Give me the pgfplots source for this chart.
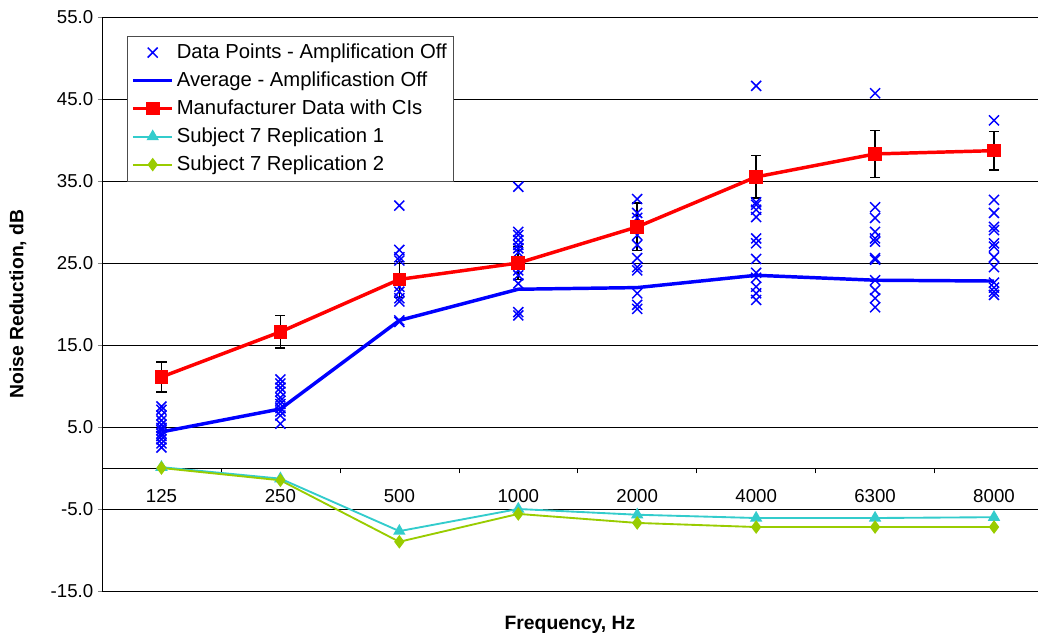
\documentclass[border=0pt]{standalone}
\usepackage{fontspec}
\setmainfont{Liberation Sans}
\usepackage{pgfplots}
\pgfplotsset{compat=1.18}
\definecolor{cyanS}{RGB}{51,204,204}
\definecolor{greenS}{RGB}{153,204,0}
\begin{document}
\begin{tikzpicture}
\begin{axis}[
    name=ax,
    scale only axis,
    width=702pt, height=430.5pt,
    xmin=-0.5, xmax=7.37,
    ymin=-15, ymax=55,
    axis x line*=middle,
    axis y line*=left,
    xtick={0,...,7},
    xticklabels={125,250,500,1000,2000,4000,6300,8000},
    major x tick style={draw=none},
    minor xtick={0.5,1.5,...,6.5},
    minor x tick style={black, thin},
    minor tick length=4pt,
    tick align=outside,
    ytick={-15,-5,...,55},
    major tick length=3pt,
    ymajorgrids,
    grid style={black, thin},
    axis line style={black, thin},
    yticklabel style={/pgf/number format/.cd, fixed, fixed zerofill, precision=1, assume math mode=true},
    ticklabel style={font=\fontsize{14}{16}\selectfont},
    xticklabel style={yshift=-9.5pt},
    xlabel={\textbf{Frequency, Hz}},
    ylabel={\textbf{Noise Reduction, dB}},
    label style={font=\fontsize{14.5}{16}\selectfont},
    xlabel style={at={(axis description cs:0.5,0)}, anchor=center, yshift=-25.5pt},
    ylabel style={at={(axis description cs:-0.0898,0.5)}, anchor=center},
    legend style={at={(axis description cs:0.0267,0.967)}, anchor=north west,
        font=\fontsize{15.2}{17}\selectfont, draw=black!70, fill=white,
        row sep=4.5pt, inner xsep=3pt, inner ysep=4pt},
    legend cell align=left,
    legend image code/.code={\draw[mark repeat=2,mark phase=2,#1]
        plot coordinates {(0cm,0cm) (0.52cm,0cm) (1.04cm,0cm)};},
    clip=false,
]
% individual data points, amplification off
\addplot[only marks, blue, mark=x, mark size=5.3pt, line width=1.1pt] coordinates {
 (0,7.5) (0,7.1) (0,6.4) (0,5.8) (0,5.3) (0,4.9) (0,4.6) (0,4.2) (0,3.9) (0,3.5) (0,3.0) (0,2.5)
 (1,10.8) (1,10.3) (1,9.8) (1,9.3) (1,8.6) (1,8.2) (1,7.8) (1,7.3) (1,6.9) (1,6.4) (1,5.4)
 (2,32.0) (2,26.6) (2,25.7) (2,25.3) (2,22.1) (2,21.5) (2,20.7) (2,20.3) (2,18.0) (2,17.8)
 (3,34.3) (3,28.8) (3,28.4) (3,27.8) (3,27.2) (3,26.8) (3,26.3) (3,24.1) (3,23.5) (3,22.5) (3,19.0) (3,18.6)
 (4,32.8) (4,31.1) (4,30.5) (4,28.4) (4,27.2) (4,25.6) (4,24.5) (4,24.1) (4,21.3) (4,19.9) (4,19.4)
 (5,46.6) (5,32.4) (5,32.1) (5,31.5) (5,30.6) (5,28.0) (5,27.4) (5,25.5) (5,23.8) (5,23.2) (5,22.1) (5,21.3) (5,20.5)
 (6,45.7) (6,31.8) (6,30.5) (6,28.8) (6,28.0) (6,27.6) (6,25.6) (6,25.4) (6,22.9) (6,21.7) (6,20.7) (6,19.6)
 (7,42.4) (7,32.7) (7,31.1) (7,29.4) (7,29.0) (7,27.4) (7,27.0) (7,25.7) (7,24.5) (7,22.6) (7,22.0) (7,21.5) (7,21.1)
};
\addlegendentry{Data Points - Amplification Off}
\addplot[blue, line width=2.6pt, no marks] coordinates {
 (0,4.4) (1,7.2) (2,18.0) (3,21.8) (4,22.0) (5,23.5) (6,22.9) (7,22.8)};
\addlegendentry{Average - Amplificastion Off}
\addplot[red, line width=2.6pt, mark=square*, mark size=3.8pt,
    error bars/.cd, y dir=both, y explicit,
    error bar style={black, line width=1.2pt},
    error mark options={rotate=90, black, line width=1.2pt, mark size=3.8pt}]
 coordinates {
 (0,11.1) +- (0,1.8)
 (1,16.6) +- (0,2.0)
 (2,23.0) +- (0,2.2)
 (3,25.0) +- (0,2.0)
 (4,29.4) +- (0,2.9)
 (5,35.5) +- (0,2.6)
 (6,38.3) +- (0,2.85)
 (7,38.7) +- (0,2.35)};
\addlegendentry{Manufacturer Data with CIs}
\addplot[cyanS, line width=1.4pt, mark=triangle*, mark size=4pt] coordinates {
 (0,0.1) (1,-1.3) (2,-7.7) (3,-5.0) (4,-5.7) (5,-6.1) (6,-6.1) (7,-6.0)};
\addlegendentry{Subject 7 Replication 1}
\addplot[greenS, line width=1.4pt, mark=diamond*, mark size=4pt] coordinates {
 (0,0.0) (1,-1.5) (2,-9.0) (3,-5.6) (4,-6.7) (5,-7.2) (6,-7.2) (7,-7.2)};
\addlegendentry{Subject 7 Replication 2}
\end{axis}
\pgfresetboundingbox
\path ([shift={(-76.5pt,-34.5pt)}]ax.south west) rectangle ([shift={(704.25pt,12.75pt)}]ax.north west);
\end{tikzpicture}
\end{document}
